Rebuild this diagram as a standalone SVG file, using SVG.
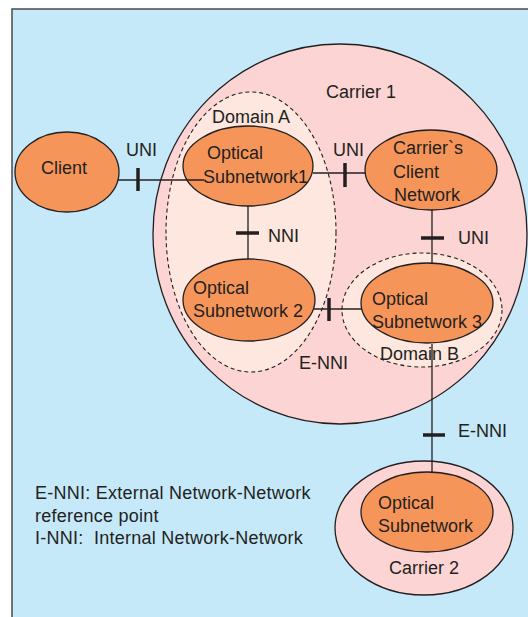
<svg xmlns="http://www.w3.org/2000/svg" width="528" height="617" viewBox="0 0 528 617">
  <style>
    text { font-family: "Liberation Sans", Arial, sans-serif; font-size: 18px; fill: #231f20; }
    .legend text { letter-spacing: 0.25px; white-space: pre; }
    .node { fill: #f6955a; stroke: #231f20; stroke-width: 1.3; }
    .carrier { fill: #fcd4d3; stroke: #231f20; stroke-width: 1.3; }
    .domain { fill: #fde7de; stroke: #231f20; stroke-width: 1.1; stroke-dasharray: 4 3; }
    .link { stroke: #231f20; stroke-width: 1.3; fill: none; }
    .tick { stroke: #231f20; stroke-width: 3.5; fill: none; }
  </style>

  <!-- page background -->
  <rect x="0" y="0" width="528" height="617" fill="#ffffff"/>
  <rect x="12" y="9" width="530" height="620" fill="#c5e9f9" stroke="#4a4a4a" stroke-width="1.5"/>

  <!-- carrier and domain boundaries -->
  <g id="carrier1">
    <ellipse class="carrier" cx="340" cy="234" rx="187" ry="190"/>
    <text x="326" y="98">Carrier 1</text>
  </g>
  <g id="domainA">
    <ellipse class="domain" cx="251" cy="232" rx="85" ry="140"/>
    <text x="212" y="123">Domain A</text>
  </g>
  <g id="domainB">
    <ellipse class="domain" cx="422" cy="310" rx="80" ry="57"/>
    <text x="380" y="360">Domain B</text>
  </g>
  <g id="carrier2">
    <ellipse class="carrier" cx="424" cy="528" rx="89" ry="67"/>
    <text x="389" y="574">Carrier 2</text>
  </g>

  <!-- connectors with reference-point ticks -->
  <g id="connectors">
    <line class="link" x1="432" y1="344" x2="432" y2="472"/>
    <line class="tick" x1="423" y1="435" x2="445" y2="435"/>
    <text x="458" y="437">E-NNI</text>

    <line class="link" x1="313" y1="173" x2="366" y2="173"/>
    <line class="tick" x1="345" y1="163" x2="345" y2="187"/>
    <text x="333" y="156">UNI</text>

    <line class="link" x1="248" y1="206" x2="248" y2="261"/>
    <line class="tick" x1="236" y1="233" x2="259" y2="233"/>
    <text x="268" y="242">NNI</text>

    <line class="link" x1="432" y1="210" x2="432" y2="264"/>
    <line class="tick" x1="421" y1="238" x2="444" y2="238"/>
    <text x="458" y="244">UNI</text>

    <line class="link" x1="314" y1="309" x2="363" y2="309"/>
    <line class="tick" x1="329" y1="298" x2="329" y2="321"/>
    <text x="299" y="369">E-NNI</text>
  </g>

  <!-- network nodes -->
  <g id="client">
    <ellipse class="node" cx="67" cy="172" rx="52" ry="40"/>
    <text x="41" y="174">Client</text>
  </g>
  <g id="optical-subnetwork-1">
    <ellipse class="node" cx="248" cy="166" rx="65" ry="40"/>
    <text x="207" y="159">Optical</text>
    <text x="203" y="183">Subnetwork1</text>
  </g>
  <g id="carriers-client-network">
    <ellipse class="node" cx="431" cy="170" rx="66" ry="40"/>
    <text x="393" y="154">Carrier`s</text>
    <text x="393" y="178">Client</text>
    <text x="394" y="201">Network</text>
  </g>
  <g id="optical-subnetwork-2">
    <ellipse class="node" cx="249" cy="300" rx="66" ry="41"/>
    <text x="193" y="294">Optical</text>
    <text x="193" y="317">Subnetwork 2</text>
  </g>
  <g id="optical-subnetwork-3">
    <ellipse class="node" cx="427" cy="303" rx="66" ry="40"/>
    <text x="372" y="305">Optical</text>
    <text x="372" y="328">Subnetwork 3</text>
  </g>
  <g id="optical-subnetwork-carrier2">
    <ellipse class="node" cx="427" cy="512" rx="66" ry="40"/>
    <text x="378" y="509">Optical</text>
    <text x="378" y="532">Subnetwork</text>
  </g>

  <!-- client access link, drawn over the subnetwork edge -->
  <g id="client-link">
    <line class="link" x1="118" y1="180" x2="204" y2="180"/>
    <line class="tick" x1="138" y1="168" x2="138" y2="191"/>
    <text x="126" y="156">UNI</text>
  </g>

  <!-- legend -->
  <g id="legend" class="legend">
    <text x="35" y="499">E-NNI: External Network-Network</text>
    <text x="35" y="522">reference point</text>
    <text x="35" y="544" xml:space="preserve">I-NNI:  Internal Network-Network</text>
  </g>
</svg>
